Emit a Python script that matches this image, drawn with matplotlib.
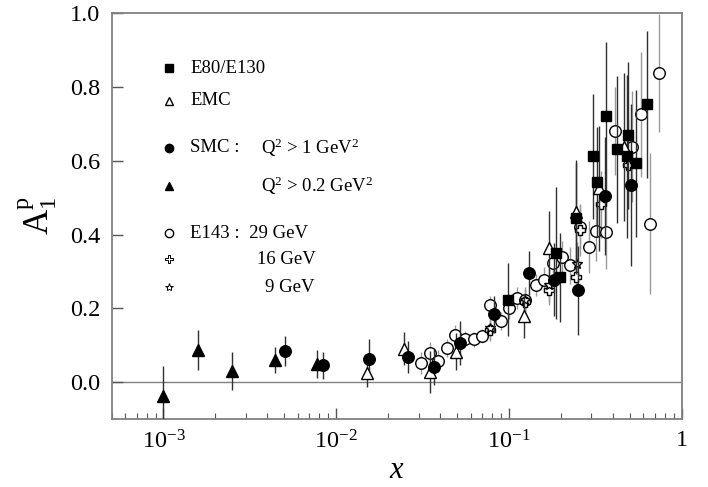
import matplotlib
matplotlib.use("Agg")
import matplotlib.pyplot as plt
import numpy as np

plt.rcParams['font.family'] = ['Liberation Serif', 'DejaVu Serif']
plt.rcParams['mathtext.fontset'] = 'custom'
plt.rcParams['mathtext.rm'] = 'Liberation Serif'
plt.rcParams['mathtext.it'] = 'Liberation Serif:italic'

# E80/E130 (filled squares)
e80_x = [0.099, 0.187, 0.198, 0.245, 0.309, 0.325, 0.365, 0.425, 0.482, 0.492, 0.545, 0.634]
e80_y = [0.224, 0.350, 0.284, 0.444, 0.612, 0.543, 0.722, 0.631, 0.612, 0.669, 0.593, 0.753]
e80_e = [0.10, 0.18, 0.12, 0.15, 0.17, 0.15, 0.20, 0.20, 0.22, 0.20, 0.20, 0.20]

# EMC (open triangles)
emc_x = [0.0150, 0.0247, 0.0348, 0.0497, 0.123, 0.171, 0.245, 0.334, 0.464]
emc_y = [0.026, 0.091, 0.028, 0.082, 0.180, 0.365, 0.461, 0.525, 0.638]
emc_e = [0.04, 0.045, 0.057, 0.05, 0.06, 0.10, 0.14, 0.17, 0.20]

# SMC Q^2 > 1 GeV^2 (filled circles)
smc1_x = [0.00508, 0.00843, 0.0154, 0.0262, 0.0371, 0.052, 0.0818, 0.131, 0.182, 0.252, 0.361, 0.51]
smc1_y = [0.084, 0.046, 0.064, 0.069, 0.041, 0.107, 0.184, 0.295, 0.278, 0.249, 0.505, 0.534]
smc1_e = [0.041, 0.037, 0.052, 0.043, 0.05, 0.06, 0.05, 0.06, 0.10, 0.12, 0.16, 0.22]

# SMC Q^2 > 0.2 GeV^2 (filled triangles)
smc2_x = [0.0010, 0.00159, 0.00249, 0.00441, 0.00778]
smc2_y = [-0.038, 0.087, 0.031, 0.060, 0.049]
smc2_e = [0.082, 0.054, 0.052, 0.034, 0.038]

# E143 29 GeV (open circles)
e29_x = [0.0308, 0.0348, 0.0389, 0.0436, 0.0486, 0.0556, 0.0627, 0.0703, 0.078, 0.0895,
         0.100, 0.112, 0.124, 0.144, 0.160, 0.180, 0.204, 0.226, 0.258, 0.292, 0.321,
         0.365, 0.411, 0.515, 0.582, 0.657, 0.741]
e29_y = [0.051, 0.078, 0.057, 0.093, 0.129, 0.118, 0.116, 0.125, 0.209, 0.166,
         0.200, 0.227, 0.222, 0.263, 0.276, 0.322, 0.338, 0.317, 0.421, 0.367, 0.409,
         0.406, 0.681, 0.638, 0.726, 0.430, 0.838]
e29_e = [0.03, 0.03, 0.03, 0.025, 0.025, 0.02, 0.02, 0.02, 0.025, 0.025,
         0.03, 0.03, 0.03, 0.03, 0.035, 0.04, 0.045, 0.05, 0.06, 0.07, 0.08,
         0.10, 0.12, 0.15, 0.17, 0.19, 0.16]

# E143 16 GeV (open crosses)
e16_x = [0.078, 0.124, 0.171, 0.245, 0.258, 0.34, 0.492]
e16_y = [0.141, 0.218, 0.250, 0.285, 0.412, 0.482, 0.590]
e16_e = [0.03, 0.03, 0.04, 0.05, 0.07, 0.09, 0.12]

# E143 9 GeV (open stars)
e9_x = [0.078, 0.124, 0.171, 0.247]
e9_y = [0.148, 0.224, 0.262, 0.319]
e9_e = [0.03, 0.035, 0.045, 0.06]

fig = plt.figure(figsize=(7.08, 4.87), dpi=100)
ax = fig.add_axes([0.1575, 0.1396, 0.8051, 0.8331])

ax.axhline(0.0, color='#808080', lw=1.0, zorder=0)

def draw(x, y, e, marker, ms, fc, ecol, z):
    ax.errorbar(x, y, yerr=e, fmt='none', ecolor=ecol, elinewidth=1.0, capsize=0, zorder=z)
    ax.plot(x, y, linestyle='none', marker=marker, ms=ms, mfc=fc, mec='black', mew=1.0, zorder=z + 0.5)

draw(e29_x, e29_y, e29_e, 'o', 8.3, 'white', '#9a9a9a', 2)
draw(e16_x, e16_y, e16_e, 'P', 7.3, 'white', '#9a9a9a', 2.2)
draw(e9_x, e9_y, e9_e, '*', 7.5, 'white', '#9a9a9a', 2.3)
draw(emc_x, emc_y, emc_e, '^', 8.3, 'white', '#303030', 3)
draw(smc2_x, smc2_y, smc2_e, '^', 8.3, 'black', '#303030', 3)
draw(smc1_x, smc1_y, smc1_e, 'o', 8.3, 'black', '#303030', 3.2)
draw(e80_x, e80_y, e80_e, 's', 7.5, 'black', '#303030', 3.4)

ax.set_xscale('log')
ax.set_xlim(5e-4, 1.0)
ax.set_ylim(-0.1, 1.0)
ax.set_xticks([1e-3, 1e-2, 1e-1, 1])
ax.set_xticklabels([r'$10^{-3}$', r'$10^{-2}$', r'$10^{-1}$', '1'])
ax.set_yticks([0.0, 0.2, 0.4, 0.6, 0.8, 1.0])
ax.set_yticklabels(['0.0', '0.2', '0.4', '0.6', '0.8', '1.0'])

for s in ax.spines.values():
    s.set_color('#808080')
    s.set_linewidth(1.3)
ax.tick_params(axis='both', which='both', direction='in', color='#555555', top=False, right=False)
ax.tick_params(axis='y', which='major', length=8, width=1.0, labelsize=17.5, pad=8)
ax.tick_params(axis='x', which='major', length=8, width=1.0, labelsize=17.5, pad=8)
ax.tick_params(axis='x', which='minor', length=4, width=0.8)

ax.set_xlabel(r'$x$', fontsize=22, labelpad=2)
ax.set_ylabel(r'$\mathrm{A}_1^{\mathrm{p}}$', fontsize=25, labelpad=8)

# custom key
mx, tx = 0.101, 0.138
rows = [0.865, 0.784, 0.668, 0.574, 0.458, 0.394, 0.325]
fs = 13.5
kw = dict(transform=ax.transAxes, linestyle='none', mec='black', clip_on=False)
ax.plot([mx], [rows[0]], marker='s', ms=5.5, mfc='black', mew=1.0, **kw)
ax.plot([mx], [rows[1]], marker='^', ms=6, mfc='white', mew=1.0, **kw)
ax.plot([mx], [rows[2]], marker='o', ms=6, mfc='black', mew=1.0, **kw)
ax.plot([mx], [rows[3]], marker='^', ms=6, mfc='black', mew=1.0, **kw)
ax.plot([mx], [rows[4]], marker='o', ms=6, mfc='white', mew=1.0, **kw)
ax.plot([mx], [rows[5]], marker='P', ms=6, mfc='white', mew=0.7, **kw)
ax.plot([mx], [rows[6]], marker='*', ms=6, mfc='white', mew=0.7, **kw)

tkw = dict(transform=ax.transAxes, fontsize=fs, va='center', ha='left')
ax.text(tx, rows[0], 'E80/E130', **tkw)
ax.text(tx, rows[1], 'EMC', **tkw)
ax.text(tx, rows[2], 'SMC :', **tkw)
ax.text(0.262, rows[2], r'Q$^2$ > 1 GeV$^2$', **tkw)
ax.text(0.262, rows[3], r'Q$^2$ > 0.2 GeV$^2$', **tkw)
ax.text(tx, rows[4], 'E143 :  29 GeV', **tkw)
ax.text(0.255, rows[5], '16 GeV', **tkw)
ax.text(0.27, rows[6], '9 GeV', **tkw)

fig.savefig('out.png', dpi=100)
